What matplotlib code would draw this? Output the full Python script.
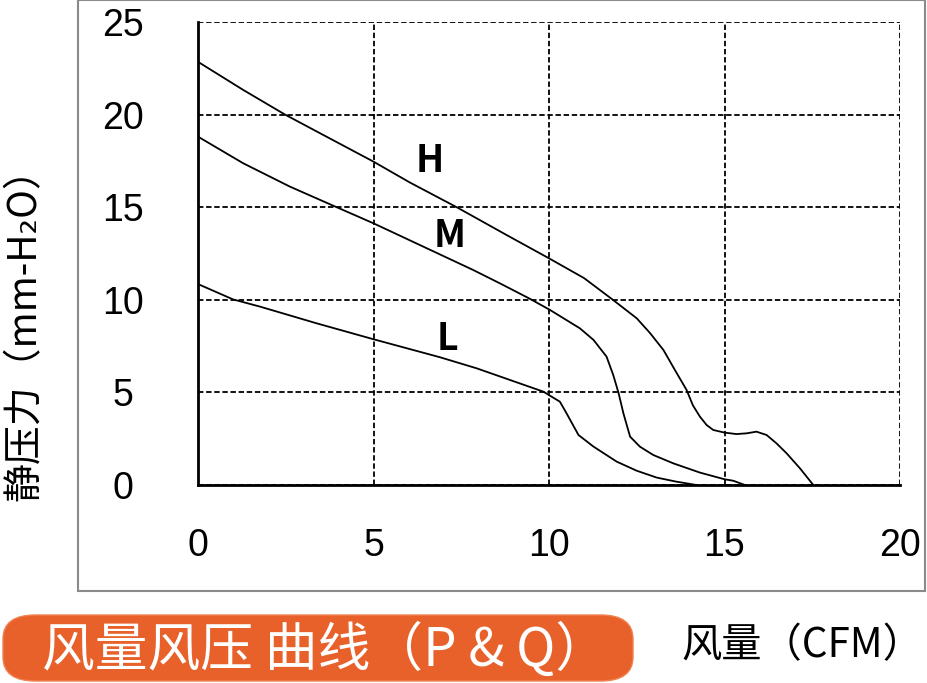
import numpy as np
import matplotlib
matplotlib.use('Agg')
import matplotlib.pyplot as plt
from matplotlib.patches import Rectangle, FancyBboxPatch

plt.rcParams['font.family'] = ['Noto Sans CJK SC', 'DejaVu Sans']

# 风量(CFM) - 静压力(mm-H2O) 读图数据
H_x = [0, 1.29, 2.48, 3.57, 5.0, 6.04, 7.37, 8.79, 10.0, 11.0, 11.82, 12.5, 12.88, 13.26, 13.59,
       13.92, 14.1, 14.3, 14.49, 14.68, 15.0, 15.34, 15.63, 15.91, 16.2, 16.48, 16.77, 17.15, 17.53]
H_y = [22.85, 21.33, 20.0, 18.9, 17.46, 16.33, 15.0, 13.5, 12.24, 11.17, 10.0, 9.0, 8.2, 7.29, 6.2,
       5.13, 4.3, 3.69, 3.24, 2.97, 2.83, 2.75, 2.79, 2.88, 2.7, 2.25, 1.71, 0.9, 0.0]

M_x = [0, 1.29, 2.62, 3.95, 5.0, 6.42, 7.84, 8.6, 9.46, 10.03, 10.88, 11.27, 11.64, 11.83, 11.98,
       12.12, 12.31, 12.59, 12.97, 13.54, 14.3, 15.0, 15.25, 15.58]
M_y = [18.81, 17.37, 16.11, 15.0, 14.13, 12.87, 11.61, 10.89, 10.05, 9.45, 8.46, 7.83, 6.93, 5.94, 4.98,
       3.87, 2.61, 2.07, 1.62, 1.17, 0.67, 0.31, 0.23, 0.0]

L_x = [0, 1.0, 1.77, 3.38, 5.0, 6.89, 7.94, 8.89, 9.84, 10.03, 10.31, 10.5, 10.84, 11.27, 11.93,
       12.5, 13.07, 13.63, 14.2]
L_y = [10.85, 10.02, 9.63, 8.73, 7.87, 6.9, 6.3, 5.67, 5.04, 4.82, 4.5, 3.87, 2.7, 2.07, 1.26,
       0.77, 0.4, 0.18, 0.0]

x_ticks = [0, 5, 10, 15, 20]
y_ticks = [0, 5, 10, 15, 20, 25]
curve_names = ['H', 'M', 'L']
label_pos = [(6.61, 17.5), (7.18, 13.45), (7.12, 7.9)]

fig = plt.figure(figsize=(9.27, 6.83), dpi=100)

# 外框
fig.patches.append(Rectangle((78 / 927, 1 - 591 / 683), 847 / 927, 591 / 683,
                             transform=fig.transFigure, fill=False,
                             edgecolor='#8a8a8a', linewidth=1.5))

ax = fig.add_axes([198 / 927, 1 - 485 / 683, 702 / 927, 463 / 683])

for xs, ys in [(H_x, H_y), (M_x, M_y), (L_x, L_y)]:
    ax.plot(xs, ys, color='black', linewidth=1.3, zorder=3)

for name, (tx, ty) in zip(curve_names, label_pos):
    ax.text(tx, ty, name, ha='center', va='center', fontsize=27,
            fontweight='bold', color='black',
            family=['Liberation Sans Narrow', 'Noto Sans CJK SC'])

ax.set_xlim(0, 20)
ax.set_ylim(0, 25)
ax.set_xticks(x_ticks)
ax.set_yticks(y_ticks)
ax.set_xticklabels([str(v) for v in x_ticks], fontsize=27, family='Liberation Sans')
ax.set_yticklabels([str(v) for v in y_ticks], fontsize=27, family='Liberation Sans')
for lab in ax.get_yticklabels():
    lab.set_horizontalalignment('center')
ax.tick_params(axis='y', length=0, pad=54)
ax.tick_params(axis='x', length=0, pad=31)

ax.grid(True, color='black', linestyle=(0, (3, 1.5)), linewidth=1.3)
ax.set_axisbelow(True)
for side in ['top', 'right']:
    ax.spines[side].set_visible(False)
for side in ['left', 'bottom']:
    ax.spines[side].set_linewidth(2)
    ax.spines[side].set_zorder(4)

fig.text(25 / 927, 1 - 325 / 683, '静压力（mm-H\u2082O）', rotation=90,
         ha='center', va='center', fontsize=28)

# 底部标题
fig.patches.append(FancyBboxPatch((3 / 927, 1 - 681 / 683), 630 / 927, 66 / 683,
                                  boxstyle='round,pad=0,rounding_size=0.035',
                                  transform=fig.transFigure, facecolor='#e8612a',
                                  edgecolor='#f08050', linewidth=1))
fig.text(325 / 927, 1 - 650 / 683, '风量风压 曲线（P & Q）', ha='center', va='center',
         fontsize=38, color='white')
fig.text(802 / 927, 1 - 646 / 683, '风量（CFM）', ha='center', va='center',
         fontsize=29, color='black')

fig.savefig('out.png', dpi=100)
